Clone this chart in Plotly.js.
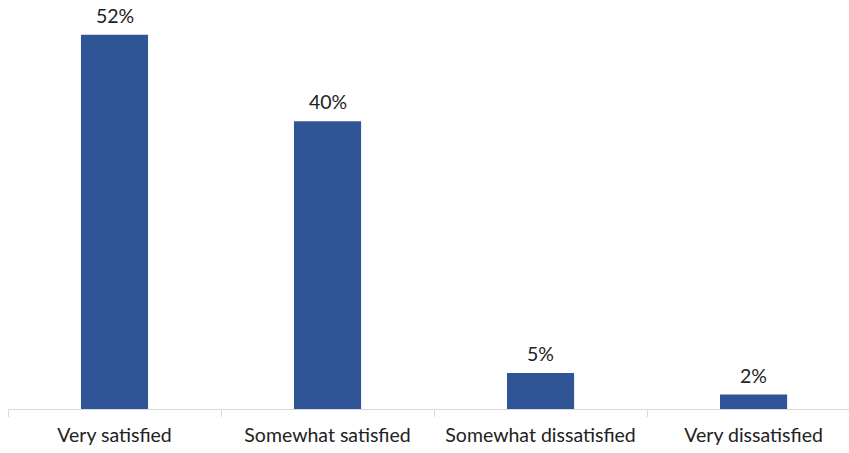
<!DOCTYPE html>
<html>
<head>
<meta charset="utf-8">
<script src="https://cdn.plot.ly/plotly-3.0.1.min.js"></script>
<style>html,body{margin:0;padding:0;overflow:hidden;background:#fff}</style>
</head>
<body>
<div id="chart" style="width:849px;height:453px"></div>
<script>
const categories = ["Very satisfied", "Somewhat satisfied", "Somewhat dissatisfied", "Very dissatisfied"];
const values = [52, 40, 5, 2];
const valueLabels = ["52%", "40%", "5%", "2%"];

const FONT = "Lato, 'Open Sans', sans-serif";
const trace = {
  type: "bar",
  x: categories,
  y: values,
  width: 0.315,
  marker: {color: "#2F5597"},
  hoverinfo: "skip"
};
const annotations = categories.map((c, i) => ({
  x: c, y: values[i], xref: "x", yref: "y",
  text: valueLabels[i], showarrow: false,
  yanchor: "bottom", yshift: 6,
  font: {family: FONT, size: 19.5, color: "#222"}
}));
const layout = {
  width: 849, height: 453,
  margin: {l: 8, r: 0, t: 6, b: 44},
  paper_bgcolor: "#fff", plot_bgcolor: "#fff",
  showlegend: false,
  xaxis: {
    type: "category",
    range: [-0.5, 3.448],
    tickson: "boundaries",
    ticks: "outside", ticklen: 7, tickcolor: "#d9d9d9",
    ticklabelstandoff: 9,
    showline: true, linecolor: "#d9d9d9", linewidth: 1,
    showgrid: false, zeroline: false,
    tickfont: {family: FONT, size: 19.5, color: "#222"}
  },
  yaxis: {
    range: [0, 56],
    visible: false, showgrid: false, zeroline: false
  },
  annotations: annotations
};
Plotly.newPlot("chart", [trace], layout, {staticPlot: true, displayModeBar: false});
</script>
</body>
</html>
